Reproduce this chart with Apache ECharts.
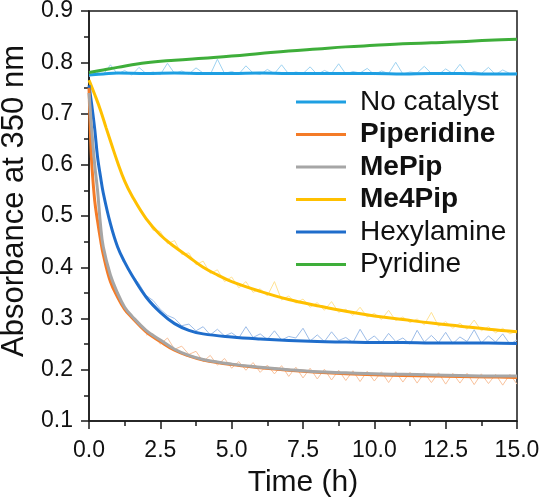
<!DOCTYPE html>
<html>
<head>
<meta charset="utf-8">
<script src="https://cdn.jsdelivr.net/npm/echarts@6/dist/echarts.min.js"></script>
<style>
html,body{margin:0;padding:0;background:#fff;}
#c{width:539px;height:500px;}
</style>
</head>
<body>
<div id="c"></div>
<script>
// ---- data (time in h, absorbance at 350 nm) ----
const seriesNames = ['No catalyst', 'Piperidine', 'MePip', 'Me4Pip', 'Hexylamine', 'Pyridine'];
const boldNames = ['Piperidine', 'MePip', 'Me4Pip'];

// smoothed traces
const noCatalystT = [0, 0.5, 1, 2, 3, 4, 5, 6, 7, 8, 9, 10, 11, 12, 13, 14, 15];
const noCatalystV = [0.775, 0.777, 0.779, 0.778, 0.779, 0.778, 0.778, 0.779, 0.778, 0.778, 0.778, 0.778, 0.777, 0.778, 0.778, 0.777, 0.777];

const piperidineT = [0, 0.05, 0.1, 0.2, 0.3, 0.4, 0.5, 0.75, 1, 1.25, 1.5, 2, 2.5, 3, 3.5, 4, 5, 6, 7, 8, 9, 10, 11, 12, 13, 14, 15];
const piperidineV = [0.75, 0.66, 0.60, 0.53, 0.49, 0.455, 0.425, 0.372, 0.342, 0.318, 0.302, 0.274, 0.255, 0.238, 0.227, 0.219, 0.210, 0.204, 0.199, 0.195, 0.192, 0.190, 0.189, 0.188, 0.187, 0.186, 0.185];

const mepipT = [0, 0.1, 0.2, 0.3, 0.4, 0.5, 0.75, 1, 1.25, 1.5, 2, 2.5, 3, 3.5, 4, 5, 6, 7, 8, 9, 10, 11, 12, 13, 14, 15];
const mepipV = [0.74, 0.665, 0.60, 0.55, 0.485, 0.44, 0.385, 0.35, 0.322, 0.305, 0.277, 0.258, 0.240, 0.228, 0.220, 0.211, 0.205, 0.200, 0.196, 0.194, 0.192, 0.191, 0.190, 0.189, 0.188, 0.188];

const me4pipT = [0, 0.2, 0.4, 0.6, 0.8, 1, 1.25, 1.5, 2, 2.5, 3, 3.5, 4, 4.5, 5, 6, 7, 8, 9, 10, 11, 12, 13, 14, 15];
const me4pipV = [0.765, 0.737, 0.707, 0.672, 0.638, 0.605, 0.568, 0.540, 0.495, 0.463, 0.440, 0.420, 0.400, 0.385, 0.372, 0.353, 0.337, 0.325, 0.314, 0.305, 0.298, 0.291, 0.285, 0.279, 0.274];

const hexylamineT = [0, 0.1, 0.2, 0.3, 0.4, 0.5, 0.75, 1, 1.25, 1.5, 2, 2.5, 3, 3.5, 4, 5, 6, 7, 8, 9, 10, 11, 12, 13, 14, 15];
const hexylamineV = [0.755, 0.715, 0.67, 0.615, 0.578, 0.545, 0.485, 0.44, 0.41, 0.385, 0.342, 0.312, 0.29, 0.277, 0.270, 0.264, 0.260, 0.257, 0.255, 0.254, 0.253, 0.253, 0.252, 0.252, 0.252, 0.251];

const pyridineT = [0, 0.5, 1, 2, 3, 4, 5, 6, 7, 8, 9, 10, 11, 12, 13, 14, 15];
const pyridineV = [0.780, 0.785, 0.790, 0.799, 0.804, 0.808, 0.812, 0.817, 0.822, 0.826, 0.830, 0.833, 0.836, 0.838, 0.840, 0.843, 0.845];

// raw (unsmoothed) traces, sampled every 0.25 h from the given start time
const rawStep = 0.25;
const noCatalystRawStart = 0;
const noCatalystRaw = [0.772, 0.781, 0.776, 0.795, 0.777, 0.784, 0.775, 0.790, 0.778, 0.781,
  0.776, 0.798, 0.778, 0.783, 0.777, 0.789, 0.779, 0.776, 0.806, 0.778,
  0.782, 0.777, 0.793, 0.779, 0.776, 0.786, 0.778, 0.795, 0.777, 0.781,
  0.778, 0.791, 0.776, 0.784, 0.778, 0.797, 0.777, 0.782, 0.779, 0.788,
  0.776, 0.783, 0.778, 0.800, 0.777, 0.781, 0.779, 0.792, 0.778, 0.776,
  0.787, 0.778, 0.796, 0.777, 0.782, 0.778, 0.790, 0.776, 0.785, 0.778, 0.779];
const hexylamineRawStart = 1.5;
const hexylamineRaw = [0.386, 0.368, 0.345, 0.335, 0.318, 0.306, 0.300, 0.286, 0.289, 0.276,
  0.284, 0.268, 0.279, 0.266, 0.272, 0.262, 0.284, 0.263, 0.270, 0.259,
  0.276, 0.258, 0.265, 0.262, 0.281, 0.256, 0.268, 0.255, 0.274, 0.257,
  0.263, 0.253, 0.279, 0.256, 0.266, 0.252, 0.271, 0.255, 0.262, 0.250,
  0.277, 0.254, 0.267, 0.253, 0.273, 0.251, 0.264, 0.255, 0.278, 0.252,
  0.266, 0.254, 0.270, 0.250, 0.258];
const me4pipRawStart = 2;
const me4pipRaw = [0.497, 0.472, 0.470, 0.446, 0.452, 0.425, 0.428, 0.405, 0.412, 0.388,
  0.395, 0.372, 0.381, 0.360, 0.372, 0.351, 0.358, 0.344, 0.372, 0.336,
  0.344, 0.330, 0.338, 0.322, 0.331, 0.316, 0.333, 0.312, 0.318, 0.306,
  0.322, 0.303, 0.310, 0.298, 0.316, 0.296, 0.303, 0.292, 0.299, 0.288,
  0.312, 0.285, 0.294, 0.281, 0.291, 0.279, 0.297, 0.276, 0.284, 0.272,
  0.281, 0.270, 0.276];
const piperidineRawStart = 2;
const piperidineRaw = [0.268, 0.270, 0.250, 0.262, 0.240, 0.246, 0.230, 0.236, 0.216, 0.228,
  0.209, 0.222, 0.203, 0.216, 0.199, 0.214, 0.195, 0.209, 0.192, 0.208,
  0.187, 0.205, 0.184, 0.203, 0.182, 0.201, 0.180, 0.199, 0.179, 0.198,
  0.177, 0.197, 0.178, 0.196, 0.175, 0.196, 0.176, 0.195, 0.174, 0.194,
  0.175, 0.194, 0.172, 0.193, 0.174, 0.193, 0.171, 0.192, 0.173, 0.191,
  0.170, 0.191, 0.172];

const xTicks = [0, 2.5, 5, 7.5, 10, 12.5, 15];
const yTicks = [0.1, 0.2, 0.3, 0.4, 0.5, 0.6, 0.7, 0.8, 0.9];

const colors = ['#1E9FE2', '#F47B27', '#A6A6A6', '#FFC000', '#1F6DCB', '#3EAE3A'];
const rawColors = {0: '#9FD3F1', 4: '#9DBDE8', 3: '#FFE394', 1: '#F9C29C'};
const tSets = [noCatalystT, piperidineT, mepipT, me4pipT, hexylamineT, pyridineT];
const vSets = [noCatalystV, piperidineV, mepipV, me4pipV, hexylamineV, pyridineV];
const rawSets = [[0, noCatalystRawStart, noCatalystRaw], [4, hexylamineRawStart, hexylamineRaw],
  [3, me4pipRawStart, me4pipRaw], [1, piperidineRawStart, piperidineRaw]];

const pair = (t, v) => t.map((x, i) => [x, v[i]]);
const rawPair = (start, v) => v.map((y, i) => [start + i * rawStep, y]);
const drawOrder = [0, 5, 3, 4, 1, 2];

const FONT = 'Liberation Sans, Arial, sans-serif';
const AX = '#1a1a1a';

const rawSeries = rawSets.map(([idx, start, vals]) => ({
  name: 'raw ' + seriesNames[idx],
  type: 'line',
  data: rawPair(start, vals),
  showSymbol: false,
  silent: true,
  lineStyle: {color: rawColors[idx], width: 1},
  z: 1
}));
const mainSeries = drawOrder.map(i => ({
  name: seriesNames[i],
  type: 'line',
  data: pair(tSets[i], vSets[i]),
  showSymbol: false,
  smooth: 0.4,
  lineStyle: {color: colors[i], width: 3},
  itemStyle: {color: colors[i]},
  z: 2
}));

const chart = echarts.init(document.getElementById('c'), null, {renderer: 'canvas'});
chart.setOption({
  animation: false,
  backgroundColor: '#fff',
  grid: {left: 89, right: 22, top: 11, bottom: 79, containLabel: false, outerBoundsMode: 'none',
    show: true, borderColor: AX, borderWidth: 1.5, backgroundColor: 'transparent'},
  legend: {
    data: seriesNames,
    orient: 'vertical',
    left: 296, top: 88, padding: 0,
    itemWidth: 50, itemHeight: 3, itemGap: 4.5,
    icon: 'rect',
    textStyle: {fontFamily: FONT, fontSize: 28, color: '#111', padding: [0, 0, 0, 9],
      rich: {b: {fontFamily: FONT, fontSize: 28, fontWeight: 'bold', color: '#111'}}},
    formatter: n => boldNames.includes(n) ? '{b|' + n + '}' : n
  },
  xAxis: {
    type: 'value', min: 0, max: 15, interval: 2.5,
    name: 'Time (h)', nameLocation: 'middle', nameGap: 47,
    nameTextStyle: {fontFamily: FONT, fontSize: 30, color: '#111'},
    axisLine: {show: true, onZero: false, lineStyle: {color: AX, width: 1.5}},
    axisTick: {show: true, inside: false, length: 8, lineStyle: {color: AX, width: 1.5}},
    minorTick: {show: true, splitNumber: 2, length: 5, lineStyle: {color: AX, width: 1.5}},
    axisLabel: {fontFamily: FONT, fontSize: 23, color: '#111', margin: 18, formatter: v => v.toFixed(1)},
    splitLine: {show: false}
  },
  yAxis: {
    type: 'value', min: 0.1, max: 0.9, interval: 0.1,
    name: 'Absorbance at 350 nm', nameLocation: 'middle', nameGap: 57,
    nameTextStyle: {fontFamily: FONT, fontSize: 31, color: '#111', padding: [0, 0, 0, 30]},
    axisLine: {show: true, onZero: false, lineStyle: {color: AX, width: 1.5}},
    axisTick: {show: true, inside: false, length: 8, lineStyle: {color: AX, width: 1.5}},
    minorTick: {show: true, splitNumber: 2, length: 5, lineStyle: {color: AX, width: 1.5}},
    axisLabel: {fontFamily: FONT, fontSize: 23, color: '#111', margin: 16, formatter: v => v.toFixed(1)},
    splitLine: {show: false}
  },
  series: rawSeries.concat(mainSeries)
});
</script>
</body>
</html>
